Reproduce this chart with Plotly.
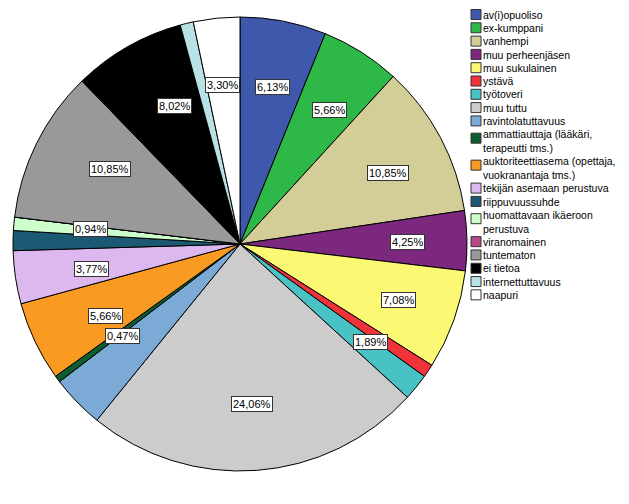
import math
import plotly.graph_objects as go

# ---- data ----
categories = [
    "av(i)opuoliso", "ex-kumppani", "vanhempi", "muu perheenjäsen", "muu sukulainen",
    "ystävä", "työtoveri", "muu tuttu", "ravintolatuttavuus",
    "ammattiauttaja (lääkäri,\nterapeutti tms.)",
    "auktoriteettiasema (opettaja,\nvuokranantaja tms.)",
    "tekijän asemaan perustuva", "riippuvuussuhde",
    "huomattavaan ikäeroon\nperustuva", "viranomainen", "tuntematon", "ei tietoa",
    "internettuttavuus", "naapuri",
]
percents = [6.13, 5.66, 10.85, 4.25, 7.08, 0.94, 1.89, 24.06, 3.77, 0.47,
            5.66, 3.77, 1.42, 0.94, 0.0, 10.85, 8.02, 0.94, 3.30]
labeled = [True, True, True, True, True, False, True, True, False, True,
           True, True, False, True, False, True, True, False, True]

colors = ["#3E58AC", "#2EB848", "#D3CE97", "#7C287E", "#FBF873", "#EF3338",
          "#48C2C5", "#CCCCCC", "#7BAAD6", "#0E5C2F", "#F99B23", "#DDB8EE",
          "#1C5A73", "#CCFFCC", "#B94A86", "#999999", "#000000", "#B8E2E6",
          "#FFFFFF"]

W, H = 629, 504
cx, cy, R = 240, 244, 227
FONT = "Liberation Sans, Arial, sans-serif"

fig = go.Figure(go.Pie(
    labels=[c.replace("\n", " ") for c in categories],
    values=percents,
    sort=False,
    direction="clockwise",
    rotation=0,
    textinfo="none",
    hoverinfo="label+percent",
    marker=dict(colors=colors, line=dict(color="#000000", width=1)),
    domain=dict(x=[(cx - R) / W, (cx + R) / W], y=[1 - (cy + R) / H, 1 - (cy - R) / H]),
    showlegend=False,
))

annotations = []
shapes = []
total = sum(percents)
cum = 0.0
for p, show in zip(percents, labeled):
    mid = (cum + p / 2) / total
    cum += p
    if not show:
        continue
    th = 2 * math.pi * mid
    px = cx + 0.74 * R * math.sin(th)
    py = cy - 0.74 * R * math.cos(th)
    annotations.append(dict(
        x=px / W, y=1 - py / H, xref="paper", yref="paper",
        text=f"{p:.2f}".replace(".", ",") + "%", showarrow=False,
        font=dict(family=FONT, size=11, color="#000"),
        bgcolor="#FFFFFF", bordercolor="#333333", borderwidth=1, borderpad=1,
    ))

# custom compact legend
FS = 10.5
y = 14.5
step = 13.3
lh = FS * 1.3
for name, col in zip(categories, colors):
    lines = name.split("\n")
    n = len(lines)
    sy = y + (n - 1) * 4
    shapes.append(dict(type="rect", xref="paper", yref="paper",
                       x0=471 / W, x1=481 / W, y0=1 - (sy - 5) / H, y1=1 - (sy + 5) / H,
                       fillcolor=col, line=dict(color="#333333", width=1)))
    annotations.append(dict(
        x=482 / W, y=1 - (y - lh / 2) / H, xref="paper", yref="paper",
        xanchor="left", yanchor="top", align="left", text="<br>".join(lines),
        showarrow=False, borderpad=0,
        font=dict(family=FONT, size=FS, color="#000"),
    ))
    y += step + (n - 1) * lh

fig.update_layout(
    width=W, height=H,
    margin=dict(l=0, r=0, t=0, b=0),
    paper_bgcolor="#FFFFFF", plot_bgcolor="#FFFFFF",
    annotations=annotations, shapes=shapes,
    showlegend=False,
)

fig.write_html("out.html", config={"displayModeBar": False},
               post_script="document.body.style.margin='0';")
